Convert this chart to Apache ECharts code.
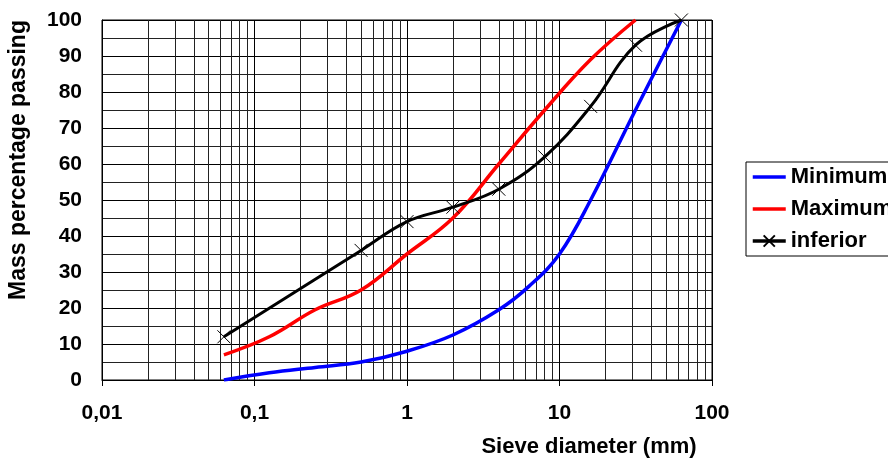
<!DOCTYPE html>
<html>
<head>
<meta charset="utf-8">
<script src="https://cdn.jsdelivr.net/npm/echarts@6/dist/echarts.min.js"></script>
<style>
  html, body { margin: 0; padding: 0; background: #fff; }
  #chart { width: 888px; height: 458px; }
</style>
</head>
<body>
<div id="chart"></div>
<script>
// sieve sizes (mm) and mass % passing
const minSizes = [0.063, 0.125, 0.25, 0.5, 1, 2, 4, 6.3, 10, 16, 31.5, 63];
const minPassing = [0, 2, 3.5, 5, 8, 12.5, 19.5, 26, 35, 50, 75, 100];
const maxSizes = [0.063, 0.125, 0.25, 0.5, 1, 2, 4, 8, 16, 31.5];
const maxPassing = [7, 12, 19.5, 25, 35, 45, 60, 75, 89, 100];
const infSizes = [0.063, 0.5, 1, 2, 4, 8, 16, 31.5, 63];
const infPassing = [12, 36, 44, 48, 53, 62, 76, 93, 100];
const seriesNames = ['Minimum', 'Maximum', 'inferior'];

// log grid: 2..9 inside each decade
const decades = [0.01, 0.1, 1, 10];
const minorSteps = [2, 3, 4, 5, 6, 7, 8, 9];

const FONT = 'Liberation Sans, Arial, sans-serif';
const HIDDEN = { color: 'rgba(0,0,0,0)', borderWidth: 0 };

function pairs(xs, ys) {
    return xs.map(function (x, i) { return [x, ys[i]]; });
}

const minorLines = [];
decades.forEach(function (d) {
    minorSteps.forEach(function (m) {
        minorLines.push({ xAxis: +(d * m).toPrecision(3) });
    });
});

const chart = echarts.init(document.getElementById('chart'));

const option = {
    animation: false,
    backgroundColor: '#fff',
    grid: {
        left: 102,
        right: 176,
        top: 20,
        bottom: 78,
        show: true,
        borderColor: '#000',
        borderWidth: 1
    },
    legend: {
        data: [
            { name: seriesNames[0], itemStyle: HIDDEN },
            { name: seriesNames[1], itemStyle: HIDDEN },
            { name: seriesNames[2] }
        ],
        orient: 'vertical',
        left: 746,
        top: 162,
        padding: [4, 6, 4, 5],
        itemWidth: 33,
        itemHeight: 14,
        itemGap: 10,
        borderColor: '#000',
        borderWidth: 1,
        lineStyle: { width: 3.5 },
        textStyle: {
            fontFamily: FONT,
            fontWeight: 'bold',
            fontSize: 22,
            color: '#000'
        }
    },
    xAxis: {
        type: 'log',
        logBase: 10,
        min: 0.01,
        max: 100,
        axisLine: { lineStyle: { color: '#000', width: 1 } },
        axisTick: { show: true, inside: false, length: 6, lineStyle: { color: '#000' } },
        axisLabel: {
            margin: 23,
            fontFamily: FONT,
            fontWeight: 'bold',
            fontSize: 21,
            color: '#000',
            formatter: function (v) { return String(v).replace('.', ','); }
        },
        splitLine: { show: true, lineStyle: { color: '#000', width: 1 } }
    },
    yAxis: {
        type: 'value',
        min: 0,
        max: 100,
        interval: 10,
        minorTick: { show: false, splitNumber: 2 },
        axisLine: { show: true, lineStyle: { color: '#000', width: 1 } },
        axisTick: { show: true, inside: true, length: 8, lineStyle: { color: '#000' } },
        axisLabel: {
            margin: 20,
            fontFamily: FONT,
            fontWeight: 'bold',
            fontSize: 21,
            color: '#000'
        },
        splitLine: { show: true, lineStyle: { color: '#000', width: 1 } },
        minorSplitLine: { show: true, lineStyle: { color: '#222', width: 1 } }
    },
    graphic: [
        {
            type: 'text',
            x: 19,
            y: 160,
            rotation: Math.PI / 2,
            style: {
                text: 'Mass percentage passing',
                fontFamily: FONT,
                fontWeight: 'bold',
                fontSize: 23,
                fill: '#000',
                align: 'center',
                verticalAlign: 'middle'
            }
        },
        {
            type: 'text',
            x: 589,
            y: 447,
            style: {
                text: 'Sieve diameter (mm)',
                fontFamily: FONT,
                fontWeight: 'bold',
                fontSize: 22,
                fill: '#000',
                align: 'center',
                verticalAlign: 'middle'
            }
        }
    ],
    series: [
        {
            // carries the minor vertical grid lines only
            name: 'grid',
            type: 'line',
            data: [],
            z: 1,
            silent: true,
            markLine: {
                z: 1,
                silent: true,
                symbol: ['none', 'none'],
                label: { show: false },
                lineStyle: { color: '#222', width: 1, type: 'solid' },
                emphasis: { disabled: true },
                data: minorLines
            }
        },
        {
            name: seriesNames[0],
            type: 'line',
            smooth: 0.4,
            symbol: 'none',
            lineStyle: { color: '#0000ff', width: 3.5 },
            itemStyle: { color: '#0000ff' },
            data: pairs(minSizes, minPassing)
        },
        {
            name: seriesNames[1],
            type: 'line',
            smooth: 0.4,
            symbol: 'none',
            lineStyle: { color: '#ff0000', width: 3.5 },
            itemStyle: { color: '#ff0000' },
            data: pairs(maxSizes, maxPassing)
        },
        {
            name: seriesNames[2],
            type: 'line',
            smooth: 0.4,
            symbol: 'path://M0,0L10,10M10,0L0,10',
            symbolSize: 13,
            showAllSymbol: true,
            lineStyle: { color: '#000', width: 3 },
            itemStyle: { color: '#000', borderColor: '#000', borderWidth: 1 },
            data: pairs(infSizes, infPassing)
        }
    ]
};

chart.setOption(option);
</script>
</body>
</html>
